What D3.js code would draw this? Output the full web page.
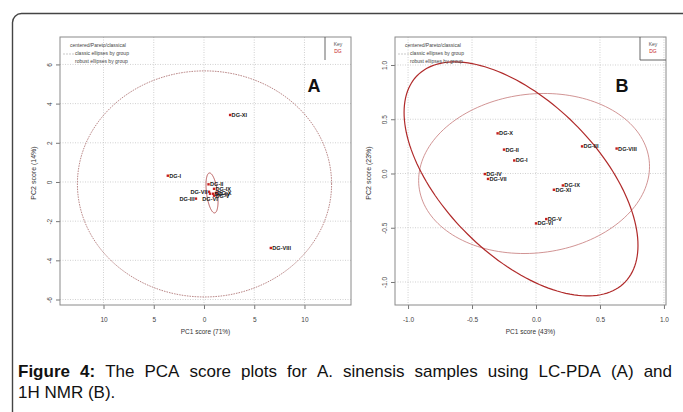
<!DOCTYPE html>
<html lang="en">
<head>
<meta charset="UTF-8">
<title>PCA score plots</title>
<script src="https://cdn.jsdelivr.net/npm/d3@7"></script>
<style>
  body { margin: 0; background: #fff; }
  svg { display: block; font-family: "Liberation Sans", Arial, sans-serif; }
</style>
</head>
<body>
<svg width="683" height="412"></svg>
<script>
// ---- panel A (LC-PDA) ----
const labelsA = ["DG-I", "DG-II", "DG-III", "DG-IV", "DG-V", "DG-VI", "DG-VII", "DG-VIII", "DG-IX", "DG-X", "DG-XI"];
const pc1A = [-3.6, 0.45, -0.8, 0.9, 1.0, 0.6, 0.5, 6.65, 1.0, 1.2, 2.6];
const pc2A = [0.32, -0.12, -0.85, -0.6, -0.7, -0.6, -0.5, -3.37, -0.35, -0.55, 3.42];
const posA = [4, 4, 2, 4, 4, 1, 2, 4, 4, 4, 4];   // R style text pos: 1 below, 2 left, 4 right

// ellipses: centre + covariance (data units)
const classicA = { cx: 0.05, cy: -0.1, sxx: 160, syy: 33.3, sxy: 0 };
const robustA = { cx: 0.8, cy: -0.56, sxx: 0.36, syy: 1.04, sxy: -0.25 };

const xTicksA = [-10, -5, 0, 5, 10];
const xTickLabelsA = ["10", "5", "0", "5", "10"];
const yTicksA = [-6, -4, -2, 0, 2, 4, 6];
const yTickLabelsA = ["-6", "-4", "-2", "0", "2", "4", "6"];

// ---- panel B (1H NMR) ----
const labelsB = ["DG-I", "DG-II", "DG-III", "DG-IV", "DG-V", "DG-VI", "DG-VII", "DG-VIII", "DG-IX", "DG-X", "DG-XI"];
const pc1B = [-0.17, -0.25, 0.36, -0.40, 0.08, 0.0, -0.375, 0.63, 0.21, -0.30, 0.14];
const pc2B = [0.12, 0.22, 0.25, -0.005, -0.42, -0.46, -0.05, 0.23, -0.11, 0.37, -0.15];
const posB = [4, 4, 4, 4, 4, 4, 4, 4, 4, 4, 4];

const classicB = { cx: -0.015, cy: 0.0, sxx: 0.814, syy: 0.544, sxy: 0.058 };
const robustB = { cx: -0.117, cy: -0.05, sxx: 0.8355, syy: 1.163, sxy: -0.56 };

const xTicksB = [-1, -0.5, 0, 0.5, 1];
const xTickLabelsB = ["-1.0", "-0.5", "0.0", "0.5", "1.0"];
const yTicksB = [-1, -0.5, 0, 0.5, 1];
const yTickLabelsB = ["-1.0", "-0.5", "0.0", "0.5", "1.0"];

const legendLines = ["centered/Pareto/classical", "classic ellipses by group", "robust ellipses by group"];

const captionBold = ["Figure", "4:"];
const captionLine1 = ["The", "PCA", "score", "plots", "for", "A.", "sinensis", "samples", "using", "LC-PDA", "(A)", "and"];
const captionLine2 = "1H NMR (B).";

const svg = d3.select("svg");

// outer rounded frame
svg.append("rect")
    .attr("x", 12.5).attr("y", 13.5)
    .attr("width", 720).attr("height", 440)
    .attr("rx", 9)
    .attr("fill", "none")
    .attr("stroke", "#444")
    .attr("stroke-width", 1.4);

function ellipsePoints(e, n) {
    // cholesky of covariance, unit circle mapped through it
    let l11 = Math.sqrt(e.sxx), l21 = e.sxy / l11, l22 = Math.sqrt(e.syy - l21 * l21);
    return d3.range(n + 1).map(function(i) {
        let t = 2 * Math.PI * i / n, u = Math.cos(t), v = Math.sin(t);
        return [e.cx + l11 * u, e.cy + l21 * u + l22 * v];
    });
}

function drawPanel(p) {
    let g = svg.append("g");
    let x = d3.scaleLinear().domain(p.xDomain).range([p.left, p.right]);
    let y = d3.scaleLinear().domain(p.yDomain).range([p.bottom, p.top]);

    // grid
    g.selectAll(".gx").data(p.xTicks).join("line")
        .attr("x1", d => x(d)).attr("x2", d => x(d))
        .attr("y1", p.top).attr("y2", p.bottom)
        .attr("stroke", "#c4c4c4").attr("stroke-width", 0.8)
        .attr("stroke-dasharray", "1,1.5");
    g.selectAll(".gy").data(p.yTicks).join("line")
        .attr("y1", d => y(d)).attr("y2", d => y(d))
        .attr("x1", p.left).attr("x2", p.right)
        .attr("stroke", "#c4c4c4").attr("stroke-width", 0.8)
        .attr("stroke-dasharray", "1,1.5");

    // axes
    let xAxis = d3.axisBottom(x).tickValues(p.xTicks).tickSize(4)
        .tickFormat((d, i) => p.xTickLabels[i]);
    let ax = g.append("g").attr("transform", "translate(0," + p.bottom + ")").call(xAxis);
    ax.select(".domain").remove();
    ax.selectAll("line").attr("stroke", "#777");
    ax.selectAll("text").attr("fill", "#444").attr("font-size", 6.5).attr("dy", "1.5em")
        .attr("font-family", "Liberation Sans, Arial, sans-serif");

    let yAxis = d3.axisLeft(y).tickValues(p.yTicks).tickSize(4)
        .tickFormat((d, i) => p.yTickLabels[i]);
    let ay = g.append("g").attr("transform", "translate(" + p.left + ",0)").call(yAxis);
    ay.select(".domain").remove();
    ay.selectAll("line").attr("stroke", "#777");
    ay.selectAll("text")
        .attr("fill", "#444").attr("font-size", 6.5)
        .attr("font-family", "Liberation Sans, Arial, sans-serif")
        .attr("x", null).attr("dy", null)
        .attr("text-anchor", "middle")
        .attr("transform", "translate(-10,0) rotate(-90)")
        .attr("y", 0).attr("dy", "0.35em");

    // box
    g.append("rect")
        .attr("x", p.left).attr("y", p.top)
        .attr("width", p.right - p.left).attr("height", p.bottom - p.top)
        .attr("fill", "none").attr("stroke", "#8a8a8a").attr("stroke-width", 1);

    // axis titles
    g.append("text")
        .attr("x", (p.left + p.right) / 2).attr("y", p.bottom + 29)
        .attr("text-anchor", "middle").attr("font-size", 6.5).attr("fill", "#333")
        .text(p.xTitle);
    g.append("text")
        .attr("transform", "translate(" + (p.left - 24) + "," + ((p.top + p.bottom) / 2 + 2) + ") rotate(-90)")
        .attr("text-anchor", "middle").attr("font-size", 7).attr("fill", "#333")
        .text(p.yTitle);

    // ellipses
    let line = d3.line().x(d => x(d[0])).y(d => y(d[1]));
    g.append("path").datum(ellipsePoints(p.classic, 160))
        .attr("d", line).attr("fill", "none")
        .attr("stroke", p.classicColor).attr("stroke-width", p.classicWidth)
        .attr("stroke-dasharray", p.classicDash);
    g.append("path").datum(ellipsePoints(p.robust, 160))
        .attr("d", line).attr("fill", "none")
        .attr("stroke", p.robustColor).attr("stroke-width", p.robustWidth);

    // points + labels
    let pts = p.labels.map((l, i) => ({ label: l, x: p.pc1[i], y: p.pc2[i], pos: p.pos[i] }));
    g.selectAll(".pt").data(pts).join("rect")
        .attr("x", d => x(d.x) - 1.2).attr("y", d => y(d.y) - 1.2)
        .attr("width", 2.4).attr("height", 2.4)
        .attr("fill", "#c62020");
    g.selectAll(".lb").data(pts).join("text")
        .attr("x", d => d.pos === 2 ? x(d.x) - 1.5 : d.pos === 1 ? x(d.x) : x(d.x) + 1.5)
        .attr("y", d => d.pos === 1 ? y(d.y) + 7 : y(d.y) + 2)
        .attr("text-anchor", d => d.pos === 2 ? "end" : d.pos === 1 ? "middle" : "start")
        .attr("font-size", 5.6).attr("font-weight", "bold").attr("fill", "#1a1a1a")
        .text(d => d.label);

    // legend (top-left)
    g.append("line")
        .attr("x1", p.left + 3).attr("x2", p.left + 14)
        .attr("y1", p.top + 17).attr("y2", p.top + 17)
        .attr("stroke", "#bbb").attr("stroke-width", 0.8).attr("stroke-dasharray", "2,1");
    g.selectAll(".lg").data(legendLines).join("text")
        .attr("x", (d, i) => i === 0 ? p.left + 10 : p.left + 15)
        .attr("y", (d, i) => p.top + 10 + i * 8)
        .attr("font-size", 5).attr("fill", "#444")
        .text(d => d);

    // key box (top-right)
    g.append("path")
        .attr("d", "M" + (p.right - 26) + "," + p.top + "V" + (p.top + 23) + (p.keyBottom ? "H" + p.right : ""))
        .attr("fill", "none").attr("stroke", "#555").attr("stroke-width", 0.9);
    g.append("text").attr("x", p.right - 13).attr("y", p.top + 9)
        .attr("text-anchor", "middle").attr("font-size", 5).attr("fill", "#555").text("Key");
    g.append("text").attr("x", p.right - 13).attr("y", p.top + 16)
        .attr("text-anchor", "middle").attr("font-size", 5).attr("fill", "#c62020").text("DG");

    // panel letter
    g.append("text").attr("x", p.letterX).attr("y", p.top + 55)
        .attr("text-anchor", "middle").attr("font-size", 18).attr("font-weight", "bold")
        .attr("font-family", "Liberation Sans, Arial, sans-serif")
        .attr("fill", "#111").text(p.letter);
}

drawPanel({
    left: 60, right: 351, top: 37, bottom: 305,
    xDomain: [-14.33, 14.63], yDomain: [-6.28, 7.40],
    xTicks: xTicksA, xTickLabels: xTickLabelsA, yTicks: yTicksA, yTickLabels: yTickLabelsA,
    xTitle: "PC1 score (71%)", yTitle: "PC2 score (14%)",
    classic: classicA, robust: robustA,
    classicColor: "#a86a6a", classicWidth: 0.8, classicDash: "1.6,1",
    robustColor: "#b04848", robustWidth: 0.9,
    labels: labelsA, pc1: pc1A, pc2: pc2A, pos: posA,
    letter: "A", letterX: 314, keyBottom: false
});

drawPanel({
    left: 395, right: 666, top: 37, bottom: 305,
    xDomain: [-1.102, 1.016], yDomain: [-1.212, 1.258],
    xTicks: xTicksB, xTickLabels: xTickLabelsB, yTicks: yTicksB, yTickLabels: yTickLabelsB,
    xTitle: "PC1 score (43%)", yTitle: "PC2 score (23%)",
    classic: classicB, robust: robustB,
    classicColor: "#c57878", classicWidth: 0.8, classicDash: null,
    robustColor: "#b02a2a", robustWidth: 1.2,
    labels: labelsB, pc1: pc1B, pc2: pc2B, pos: posB,
    letter: "B", letterX: 622, keyBottom: true
});

// caption: first line justified word by word across the text block
const capLeft = 18, capRight = 672, capSize = 17;
let words = captionBold.map(w => ({ w: w, bold: true }))
    .concat(captionLine1.map(w => ({ w: w, bold: false })));
let cap = svg.append("text").attr("y", 377).attr("font-size", capSize).attr("fill", "#111");
let spans = cap.selectAll("tspan").data(words).join("tspan")
    .attr("font-weight", d => d.bold ? "bold" : "normal")
    .text(d => d.w);
let widths = spans.nodes().map(n => n.getComputedTextLength());
let gap = (capRight - capLeft - d3.sum(widths)) / (words.length - 1);
let cx = capLeft;
spans.attr("x", (d, i) => { let v = cx; cx += widths[i] + gap; return v; });

svg.append("text").attr("x", capLeft).attr("y", 398)
    .attr("font-size", capSize).attr("fill", "#111").text(captionLine2);
</script>
</body>
</html>
